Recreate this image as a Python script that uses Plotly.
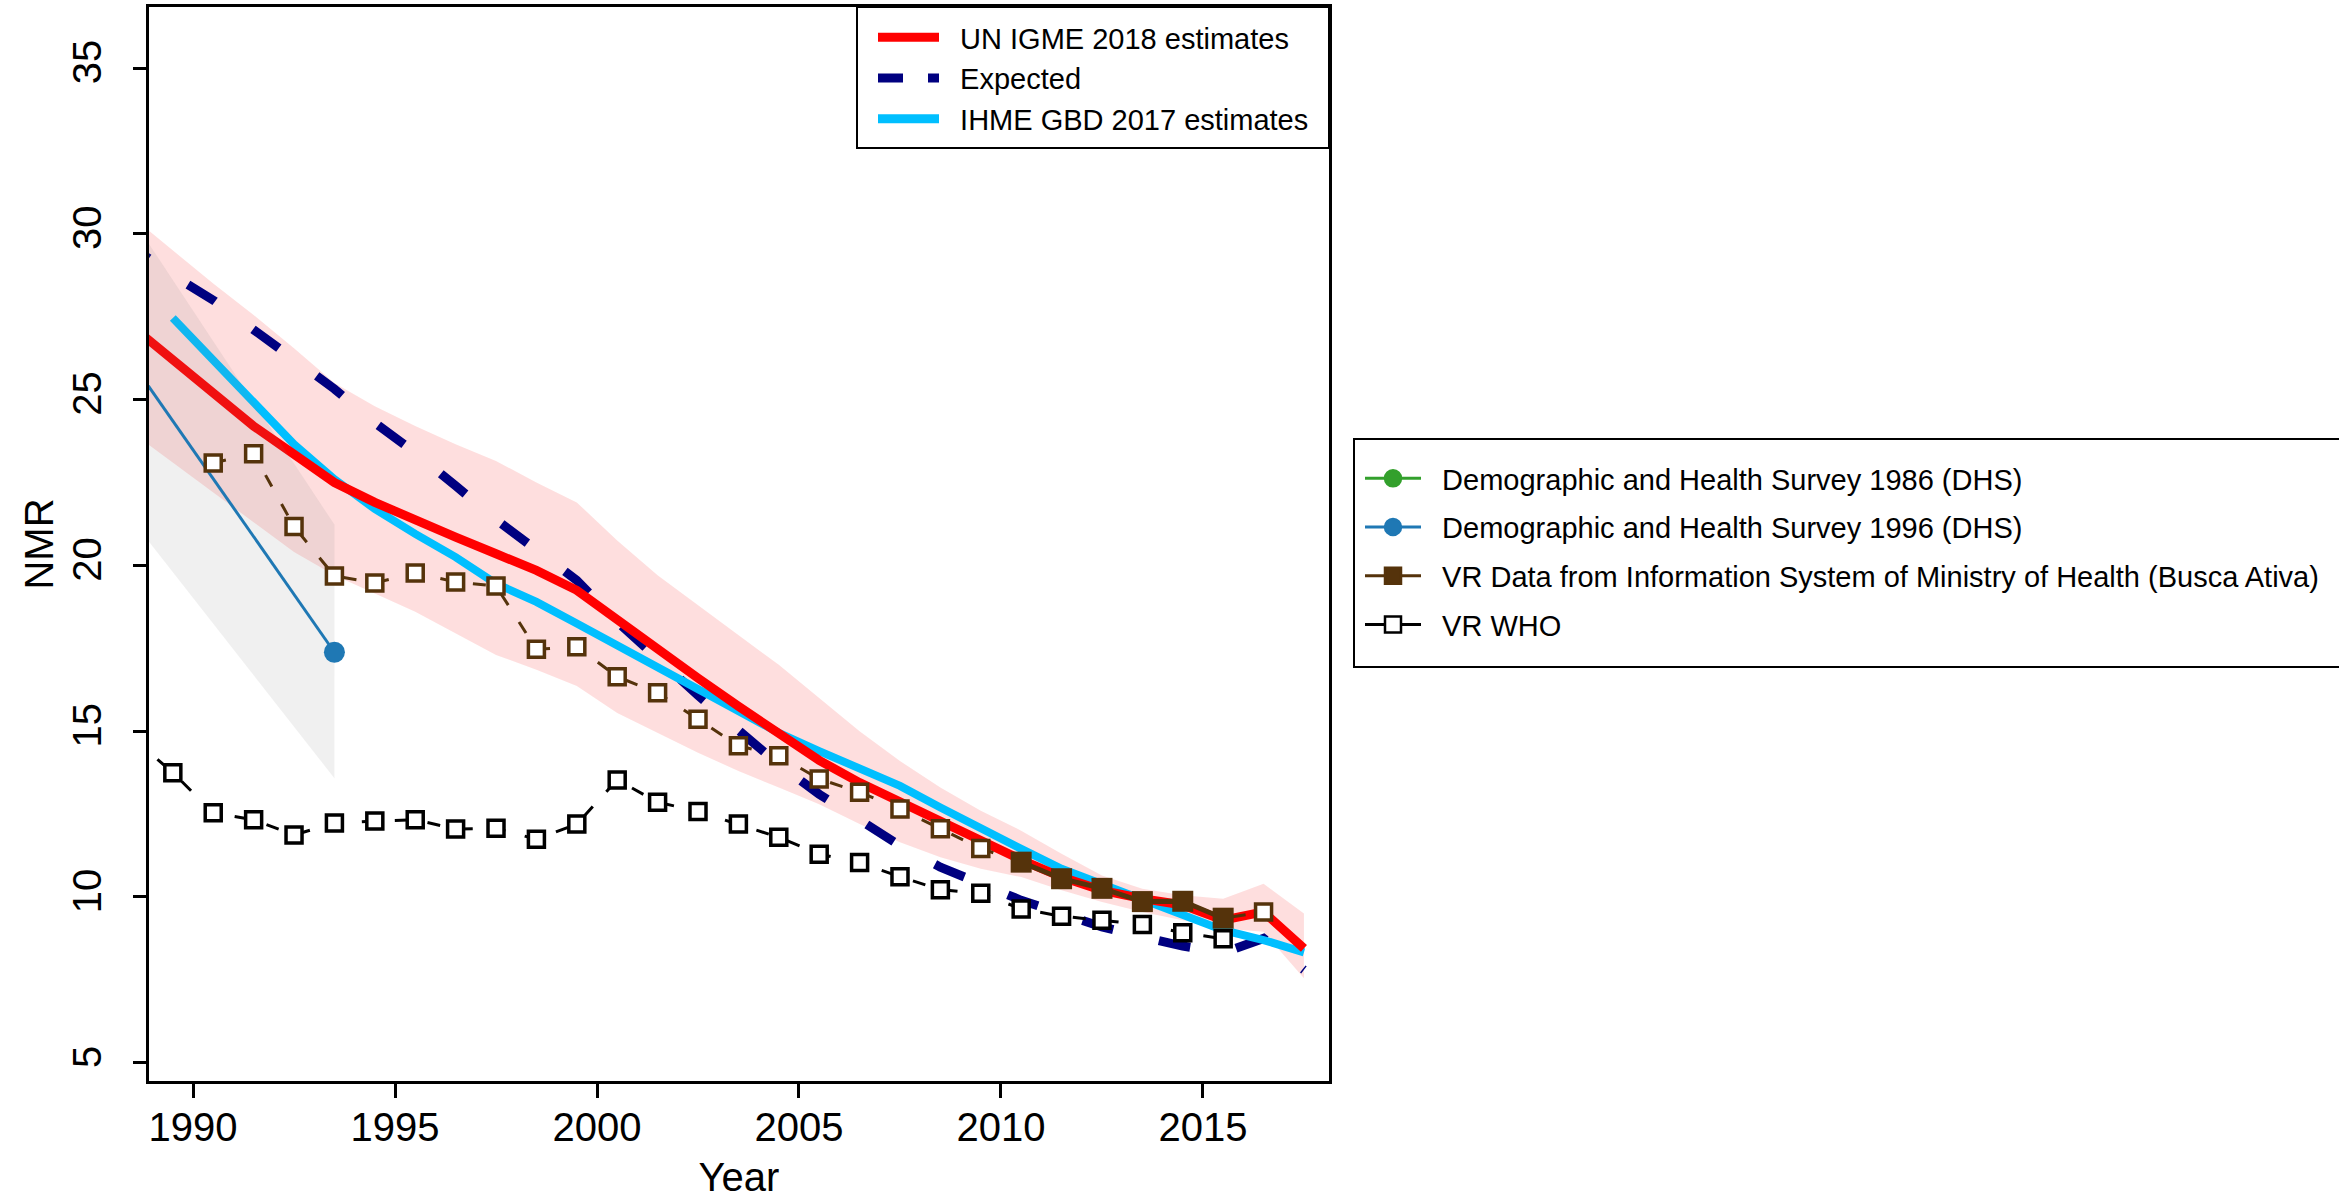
import plotly.graph_objects as go

# ---------------- data ----------------
years = [1988.5, 1989.5, 1990.5, 1991.5, 1992.5, 1993.5, 1994.5, 1995.5, 1996.5, 1997.5,
         1998.5, 1999.5, 2000.5, 2001.5, 2002.5, 2003.5, 2004.5, 2005.5, 2006.5, 2007.5,
         2008.5, 2009.5, 2010.5, 2011.5, 2012.5, 2013.5, 2014.5, 2015.5, 2016.5, 2017.5]

igme = [27.2, 26.2, 25.2, 24.2, 23.35, 22.5, 21.9, 21.35, 20.85, 20.35,
        19.85, 19.25, 18.35, 17.45, 16.6, 15.75, 14.9, 14.12, 13.45, 12.85,
        12.25, 11.65, 11.12, 10.6, 10.2, 9.95, 9.76, 9.3, 9.55, 8.45]
igme_upper = [30.5, 29.5, 28.5, 27.55, 26.55, 25.5, 24.8, 24.2, 23.65, 23.15,
              22.5, 21.9, 20.75, 19.7, 18.8, 17.9, 17.0, 16.0, 15.0, 14.1,
              13.3, 12.6, 12.0, 11.3, 10.65, 10.25, 10.05, 9.95, 10.4, 9.5]
igme_lower = [24.0, 23.1, 22.2, 21.3, 20.4, 19.7, 19.15, 18.6, 17.95, 17.3,
              16.85, 16.36, 15.55, 14.95, 14.35, 13.8, 13.3, 12.8, 12.2, 11.65,
              11.2, 10.85, 10.6, 10.2, 9.85, 9.55, 9.3, 9.05, 8.95, 7.55]

expected = [29.6, 28.75, 28.0, 27.1, 26.25, 25.32, 24.3, 23.4, 22.4, 21.38,
            20.47, 19.55, 18.3, 17.15, 16.08, 15.03, 14.0, 13.1, 12.3, 11.55,
            10.9, 10.38, 9.9, 9.5, 9.1, 8.8, 8.52, 8.32, 8.75, 7.8]

ihme_years = [1989.5, 1990.5, 1991.5, 1992.5, 1993.5, 1994.5, 1995.5, 1996.5, 1997.5,
              1998.5, 1999.5, 2000.5, 2001.5, 2002.5, 2003.5, 2004.5, 2005.5, 2006.5, 2007.5,
              2008.5, 2009.5, 2010.5, 2011.5, 2012.5, 2013.5, 2014.5, 2015.5, 2016.5, 2017.5]
ihme = [27.46, 26.2, 24.9, 23.65, 22.6, 21.7, 20.95, 20.25, 19.45,
        18.9, 18.25, 17.6, 16.95, 16.3, 15.6, 14.95, 14.4, 13.9, 13.35,
        12.7, 12.05, 11.45, 10.85, 10.38, 9.95, 9.45, 9.0, 8.7, 8.33]

dhs96_years = [1988.5, 1993.5]
dhs96 = [26.1, 17.38]
dhs96_upper = [30.45, 21.23]
dhs96_lower = [21.35, 13.58]

busca_years = [1990.5, 1991.5, 1992.5, 1993.5, 1994.5, 1995.5, 1996.5, 1997.5, 1998.5,
               1999.5, 2000.5, 2001.5, 2002.5, 2003.5, 2004.5, 2005.5, 2006.5, 2007.5,
               2008.5, 2009.5, 2010.5, 2011.5, 2012.5, 2013.5, 2014.5, 2015.5, 2016.5]
busca = [23.09, 23.37, 21.17, 19.68, 19.47, 19.77, 19.5, 19.38, 17.47,
         17.55, 16.64, 16.16, 15.36, 14.56, 14.26, 13.56, 13.16, 12.65,
         12.06, 11.46, 11.05, 10.55, 10.26, 9.86, 9.87, 9.36, 9.55]
busca_included = [False] * 20 + [True] * 6 + [False]

who_years = [1988.5, 1989.5, 1990.5, 1991.5, 1992.5, 1993.5, 1994.5, 1995.5, 1996.5, 1997.5,
             1998.5, 1999.5, 2000.5, 2001.5, 2002.5, 2003.5, 2004.5, 2005.5, 2006.5, 2007.5,
             2008.5, 2009.5, 2010.5, 2011.5, 2012.5, 2013.5, 2014.5, 2015.5]
who = [14.8, 13.75, 12.54, 12.33, 11.87, 12.23, 12.29, 12.33, 12.05, 12.07,
       11.74, 12.2, 13.53, 12.86, 12.58, 12.2, 11.8, 11.29, 11.04, 10.61,
       10.22, 10.11, 9.64, 9.42, 9.3, 9.17, 8.92, 8.74]

x_ticks = [1990, 1995, 2000, 2005, 2010, 2015]
y_ticks = [5, 10, 15, 20, 25, 30, 35]

legend1_names = ["UN IGME 2018 estimates", "Expected", "IHME GBD 2017 estimates"]
legend2_names = ["Demographic and Health Survey 1986 (DHS)",
                 "Demographic and Health Survey 1996 (DHS)",
                 "VR Data from Information System of Ministry of Health (Busca Ativa)",
                 "VR WHO"]

# ---------------- style ----------------
RED = "#FF0000"
NAVY = "#000080"
SKY = "#00BFFF"
DHS86 = "#33A02C"
DHS96 = "#1F78B4"
BROWN = "#55330B"
FONT = "Arial, Liberation Sans, Helvetica, sans-serif"
PAD = "\u00a0\u00a0"
EXPECTED_DASH = "20px,47px," + ",".join(["32px,47px"] * 30)

fig = go.Figure()

# UN IGME uncertainty band
fig.add_trace(go.Scatter(
    x=years + years[::-1], y=igme_upper + igme_lower[::-1],
    fill="toself", fillcolor="rgba(245,0,0,0.13)", line=dict(width=0),
    mode="lines", showlegend=False, hoverinfo="skip"))

# Expected
fig.add_trace(go.Scatter(
    x=years, y=expected, mode="lines", name="Expected",
    line=dict(color=NAVY, width=9, dash=EXPECTED_DASH), showlegend=False))

# IHME
fig.add_trace(go.Scatter(
    x=ihme_years, y=ihme, mode="lines", name="IHME GBD 2017 estimates",
    line=dict(color=SKY, width=8), showlegend=False))

# UN IGME
fig.add_trace(go.Scatter(
    x=years, y=igme, mode="lines", name="UN IGME 2018 estimates",
    line=dict(color=RED, width=9), showlegend=False))

# DHS 1996 uncertainty band
fig.add_trace(go.Scatter(
    x=dhs96_years + dhs96_years[::-1], y=dhs96_upper + dhs96_lower[::-1],
    fill="toself", fillcolor="rgba(128,128,128,0.12)", line=dict(width=0),
    mode="lines", showlegend=False, hoverinfo="skip"))

# DHS 1996 series
fig.add_trace(go.Scatter(
    x=dhs96_years, y=dhs96, mode="lines+markers",
    line=dict(color=DHS96, width=3),
    marker=dict(color=DHS96, size=21, symbol="circle"),
    showlegend=False))

# VR WHO
fig.add_trace(go.Scatter(
    x=who_years, y=who, mode="lines+markers",
    line=dict(color="black", width=3, dash="13px,20px"),
    marker=dict(symbol="square", size=16, color="white", line=dict(color="black", width=3.5)),
    showlegend=False))

# Busca Ativa (all points, dashed, open)
fig.add_trace(go.Scatter(
    x=busca_years, y=busca, mode="lines+markers",
    line=dict(color=BROWN, width=3, dash="13px,20px"),
    marker=dict(symbol="square", size=16, color="white", line=dict(color=BROWN, width=3.5)),
    showlegend=False))

# Busca Ativa included points (solid, filled)
inc_x = [x for x, k in zip(busca_years, busca_included) if k]
inc_y = [y for y, k in zip(busca, busca_included) if k]
fig.add_trace(go.Scatter(
    x=inc_x, y=inc_y, mode="lines+markers",
    line=dict(color=BROWN, width=5),
    marker=dict(symbol="square", size=21, color=BROWN),
    showlegend=False))

# ---- legend entries (estimates) ----
legend1_styles = [dict(color=RED, width=9), dict(color=NAVY, width=9, dash="25px,25px"),
                  dict(color=SKY, width=9)]
for i, (nm, ln) in enumerate(zip(legend1_names, legend1_styles)):
    fig.add_trace(go.Scatter(
        x=[None], y=[None], mode="lines", name=PAD + nm, line=ln,
        legend="legend", legendrank=i + 1))

# ---- legend entries (data sources) ----
legend2_styles = [
    (DHS86, "circle", DHS86, DHS86),
    (DHS96, "circle", DHS96, DHS96),
    (BROWN, "square", BROWN, BROWN),
    ("black", "square", "white", "black"),
]
for i, (nm, (lc, sym, fc, mc)) in enumerate(zip(legend2_names, legend2_styles)):
    fig.add_trace(go.Scatter(
        x=[None], y=[None], mode="lines+markers", name=PAD + nm,
        line=dict(color=lc, width=3),
        marker=dict(symbol=sym, size=19, color=fc, line=dict(color=mc, width=2.5)),
        legend="legend2", legendgroup="g%d" % i))

# plot geometry
L, R_, T, B = 149, 1010, 7, 118
W, H = 2339, 1199
pw = W - L - R_
ph = H - T - B

def px_x(p):
    return (p - L) / pw

def px_y(p):
    return (H - B - p) / ph

fig.update_layout(
    width=W, height=H,
    margin=dict(l=L, r=R_, t=T, b=B, autoexpand=False),
    plot_bgcolor="white", paper_bgcolor="white",
    font=dict(family=FONT, color="black"),
    xaxis=dict(
        range=[1988.91, 2018.12], tickvals=x_ticks, ticktext=[str(v) for v in x_ticks],
        ticks="outside", ticklen=14, tickwidth=2.5, tickcolor="black",
        showline=True, linewidth=2.5, linecolor="black", mirror=True,
        showgrid=False, zeroline=False, tickfont=dict(size=40, family=FONT),
        ticklabelstandoff=-5,
        title=dict(text="Year", font=dict(size=40, family=FONT), standoff=17)),
    yaxis=dict(
        range=[4.45, 36.84], tickvals=y_ticks, ticktext=[str(v) for v in y_ticks],
        tickangle=-90,
        ticks="outside", ticklen=13, tickwidth=2.5, tickcolor="black",
        showline=True, linewidth=2.5, linecolor="black", mirror=True,
        showgrid=False, zeroline=False, tickfont=dict(size=40, family=FONT),
        ticklabelstandoff=16,
        title=dict(text="NMR", font=dict(size=40, family=FONT), standoff=0)),
    legend=dict(
        x=px_x(873), y=px_y(12), xanchor="left", yanchor="top",
        bgcolor="rgba(0,0,0,0)", borderwidth=0, itemwidth=61,
        font=dict(size=29, family=FONT), traceorder="normal"),
    legend2=dict(
        x=px_x(1360), y=px_y(453), xanchor="left", yanchor="top",
        bgcolor="rgba(0,0,0,0)", borderwidth=0, itemwidth=56,
        font=dict(size=29, family=FONT), tracegroupgap=8),
    shapes=[
        dict(type="rect", xref="paper", yref="paper",
             x0=px_x(857), x1=1.0, y0=px_y(148), y1=1.0,
             line=dict(color="black", width=2), fillcolor="rgba(0,0,0,0)", layer="above"),
        dict(type="rect", xref="paper", yref="paper",
             x0=px_x(1354), x1=px_x(2370), y0=px_y(667), y1=px_y(439),
             line=dict(color="black", width=2), fillcolor="rgba(0,0,0,0)", layer="above"),
    ],
)

fig.write_html("out.html", config={"displayModeBar": False},
               post_script="document.body.style.margin='0px';")
